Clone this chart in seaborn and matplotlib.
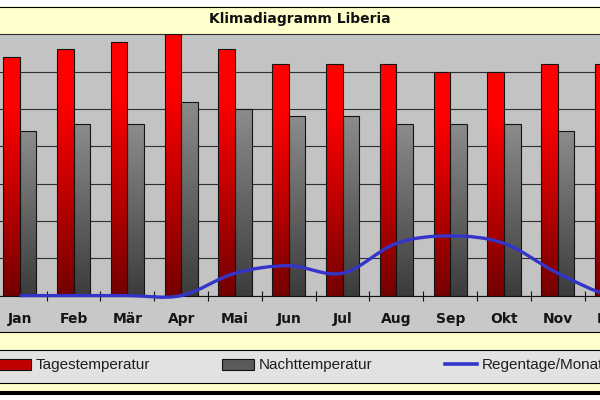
import numpy as np
import pandas as pd
import matplotlib
matplotlib.use('Agg')  #Non-interactive backend
import matplotlib.pyplot as plt
import seaborn as sns
from matplotlib.patches import Rectangle, Patch, PathPatch
from matplotlib.lines import Line2D
from matplotlib.path import Path
from matplotlib.colors import LinearSegmentedColormap

#Data
months = ['Jan', 'Feb', 'Mär', 'Apr', 'Mai', 'Jun', 'Jul', 'Aug', 'Sep', 'Okt', 'Nov', 'Dez']
day_temp = [32, 33, 34, 35, 33, 31, 31, 31, 30, 30, 31, 31]
night_temp = [22, 23, 23, 26, 25, 24, 24, 23, 23, 23, 22, 22]
rain_days = [0, 0, 0, 0, 3, 4, 3, 7, 8, 7, 3, 0]
series = ['Tagestemperatur', 'Nachttemperatur']
line_label = 'Regentage/Monat'

W, H = 600, 400
RED = '#e00000'
GRAY = '#6a6a6a'
BLUE = '#3434c8'
YELLOW = '#ffffcc'

plt.rcParams['font.family'] = ['DejaVu Sans']


def fy(y):
    """pixel row from top -> figure fraction"""
    return 1 - y / H


fig = plt.figure(figsize=(W / 100, H / 100), dpi=100)
fig.patch.set_facecolor('white')

#Background bands
for y0, y1, col in [(6, 34, YELLOW), (295, 332, '#c8c8c8'), (332, 350, YELLOW),
                    (350, 383, '#e2e2e2'), (383, 391, YELLOW)]:
    fig.patches.append(Rectangle((0, fy(y1)), 1, (y1 - y0) / H, transform=fig.transFigure,
                                 facecolor=col, edgecolor='none', zorder=-5))
for y, lw in [(6.5, 0.8), (33.5, 0.8), (331.5, 0.8), (349.5, 0.8), (382.5, 0.8), (392.5, 2.9)]:
    fig.add_artist(Line2D([0, 1], [fy(y), fy(y)], transform=fig.transFigure,
                          color='black', lw=lw, zorder=-4))

fig.text(299.5 / W, fy(19.5), 'Klimadiagramm Liberia', ha='center', va='center',
         fontsize=10, fontweight='bold', color='#111111')

#Plot area (cropped on both sides like the reference)
left_px, step_px = -7.1, 53.8
top_px, base_px = 34.4, 295.6
ax = fig.add_axes([left_px / W, fy(base_px), 12 * step_px / W, (base_px - top_px) / H])
ax.set_facecolor('#c3c3c3')

df = pd.DataFrame({
    'Monat': months * 2,
    'Serie': [series[0]] * 12 + [series[1]] * 12,
    'Wert': day_temp + night_temp,
})
sns.barplot(data=df, x='Monat', y='Wert', hue='Serie', order=months, hue_order=series,
            palette=[RED, GRAY], width=0.62, gap=0, errorbar=None, legend=False,
            edgecolor='#141414', linewidth=0.8, ax=ax)

#Vertical gradient fill on every bar
red_cmap = LinearSegmentedColormap.from_list('red', [(0, '#740000'), (0.45, '#c40000'), (0.8, '#ff0000'), (1, '#ff0000')])
gray_cmap = LinearSegmentedColormap.from_list('gray', [(0, '#3c3c3c'), (0.6, '#6c6c6c'), (1, '#8c8c8c')])
grad = np.linspace(0, 1, 256).reshape(-1, 1)
for p in list(ax.patches):
    fc = p.get_facecolor()
    cmap = red_cmap if fc[0] > fc[1] + 0.2 else gray_cmap
    x0, w, h = p.get_x(), p.get_width(), p.get_height()
    im = ax.imshow(grad, cmap=cmap, extent=[x0, x0 + w, 0, h], origin='lower',
                   aspect='auto', zorder=p.get_zorder() - 0.05)
    im.set_clip_path(p)
    p.set_facecolor('none')

#Smoothed rain line (Bezier through the points, Excel-style)
xs = np.arange(len(months))
ys = np.array(rain_days, dtype=float)
verts = [(xs[0], ys[0])]
codes = [Path.MOVETO]
for i in range(len(xs) - 1):
    y_prev = ys[i - 1] if i > 0 else ys[i]
    y_next = ys[i + 2] if i + 2 < len(ys) else ys[i + 1]
    c1 = (xs[i] + 1 / 3, ys[i] + (ys[i + 1] - y_prev) / 6)
    c2 = (xs[i + 1] - 1 / 3, ys[i + 1] - (y_next - ys[i]) / 6)
    verts += [c1, c2, (xs[i + 1], ys[i + 1])]
    codes += [Path.CURVE4] * 3
ax.add_patch(PathPatch(Path(verts, codes), fill=False, edgecolor=BLUE, lw=2.4,
                       zorder=5, clip_on=False, capstyle='butt'))

ax.set_xlim(-0.5, 11.5)
ax.set_ylim(0, 35)
ax.set_yticks(range(0, 36, 5))
ax.set_axisbelow(True)
ax.yaxis.grid(True, color='#2e2e2e', lw=0.8)
ax.xaxis.grid(False)
ax.tick_params(axis='y', left=False, labelleft=False)
ax.set_xticks(xs)
ax.set_xticklabels(months, fontsize=10, fontweight='bold', color='#151515')
ax.set_xticks(np.arange(-0.5, 12, 1), minor=True)
ax.tick_params(axis='x', which='major', length=0, pad=11.5)
ax.tick_params(axis='x', which='minor', direction='inout', length=6.5, width=0.8, color='#111111')
ax.set_xlabel('')
ax.set_ylabel('')
for s in ['left', 'right', 'top']:
    ax.spines[s].set_visible(False)
ax.spines['bottom'].set_color('#111111')
ax.spines['bottom'].set_linewidth(0.8)

#Legend strip
handles = [Patch(facecolor='#c00000', edgecolor='#111111', lw=0.8),
           Patch(facecolor='#5a5a5a', edgecolor='#111111', lw=0.8),
           Line2D([], [], color=BLUE, lw=2.6)]
leg = fig.legend(handles, series + [line_label], loc='center left',
                 bbox_to_anchor=(-1 / W, fy(365.5)), ncol=3, frameon=False,
                 borderaxespad=0, borderpad=0, handlelength=2.1, handleheight=0.7,
                 handletextpad=0.3, columnspacing=4.72,
                 prop={'family': 'Liberation Sans', 'size': 11})
for t in leg.get_texts():
    t.set_color('#1e1e1e')

fig.savefig('out.png', dpi=100)
